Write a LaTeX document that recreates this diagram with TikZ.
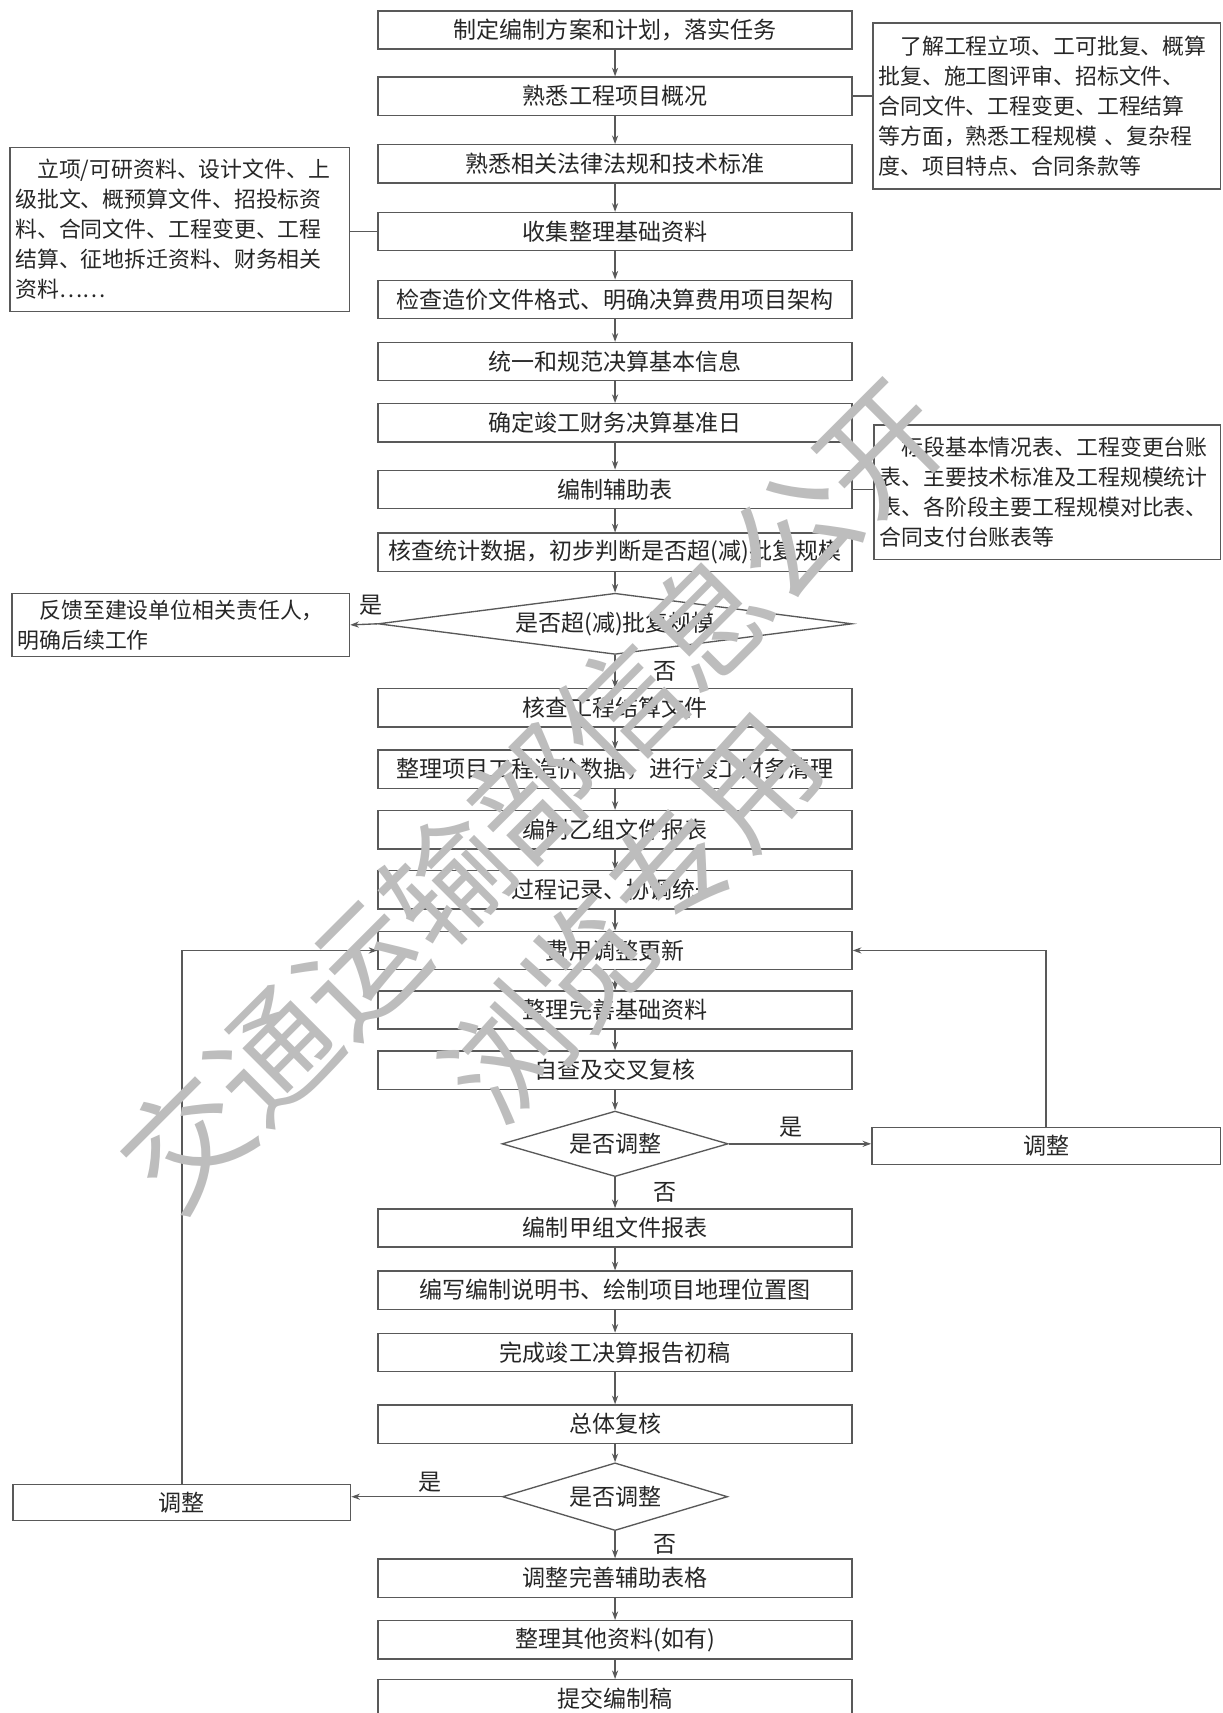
\documentclass[tikz,border=0pt]{standalone}
\usepackage{fontspec}
\usepackage{tikz}
\usetikzlibrary{arrows.meta, shapes.geometric, positioning}
\newfontfamily\cjk{Noto Sans CJK SC}

\begin{document}
\begin{tikzpicture}[x=0.02cm, y=-0.02cm,
    >={Stealth[length=4.5pt,width=3.2pt]},
    line width=0.7pt, draw=black!65,
    every node/.style={font=\cjk\fontsize{12}{14}\selectfont, text=black!85},
    stepbox/.style={draw, minimum width=8.68cm, minimum height=0.7cm, inner sep=0pt},
    notebox/.style={draw, align=left, inner xsep=0.1cm, inner ysep=0pt,
        font=\cjk\fontsize{11.4}{15.6}\selectfont},
    checkbox/.style={draw, diamond, inner sep=0pt},
    yesno/.style={inner sep=0pt},
    watermark/.style={font=\cjk\fontsize{64}{64}\selectfont, text=black!26, inner sep=0pt}]

    \useasboundingbox (0,0) rectangle (1119,1568);

    % main column
    \node[stepbox] (s_1)  at (563,27.5)  {制定编制方案和计划，落实任务};
    \node[stepbox] (s_2)  at (563,88)    {熟悉工程项目概况};
    \node[stepbox] (s_3)  at (563,150)   {熟悉相关法律法规和技术标准};
    \node[stepbox] (s_4)  at (563,212)   {收集整理基础资料};
    \node[stepbox] (s_5)  at (563,274)   {检查造价文件格式、明确决算费用项目架构};
    \node[stepbox] (s_6)  at (563,331)   {统一和规范决算基本信息};
    \node[stepbox] (s_7)  at (563,387)   {确定竣工财务决算基准日};
    \node[stepbox] (s_8)  at (563,448)   {编制辅助表};
    \node[stepbox] (s_9)  at (563,505.5) {核查统计数据，初步判断是否超(减)批复规模};
    \node[checkbox, minimum width=8.68cm, minimum height=1.12cm, shape aspect=7.75]
                   (d_1)  at (563,571)   {是否超(减)批复规模};
    \node[stepbox] (s_10) at (563,648)   {核查工程结算文件};
    \node[stepbox] (s_11) at (563,704)   {整理项目工程造价数据，进行竣工财务清理};
    \node[stepbox] (s_12) at (563,759.5) {编制乙组文件报表};
    \node[stepbox] (s_13) at (563,814.5) {过程记录、协调统一};
    \node[stepbox] (s_14) at (563,870)   {费用调整更新};
    \node[stepbox] (s_15) at (563,924.5) {整理完善基础资料};
    \node[stepbox] (s_16) at (563,979.5) {自查及交叉复核};
    \node[checkbox, minimum width=4.14cm, minimum height=1.2cm, shape aspect=3.45]
                   (d_2)  at (563,1047)  {是否调整};
    \node[stepbox] (s_17) at (563,1124)  {编制甲组文件报表};
    \node[stepbox] (s_18) at (563,1181)  {编写编制说明书、绘制项目地理位置图};
    \node[stepbox] (s_19) at (563,1238)  {完成竣工决算报告初稿};
    \node[stepbox] (s_20) at (563,1303.5) {总体复核};
    \node[checkbox, minimum width=4.12cm, minimum height=1.24cm, shape aspect=3.32]
                   (d_3)  at (563,1370)  {是否调整};
    \node[stepbox] (s_21) at (563,1444.5) {调整完善辅助表格};
    \node[stepbox] (s_22) at (563,1501)  {整理其他资料(如有)};
    \node[stepbox] (s_23) at (563,1555)  {提交编制稿};

    % side notes
    \node[notebox, text width=6.02cm, minimum height=3.0cm] (n_basis) at (164.5,210)
        {\hspace*{1em}立项/可研资料、设计文件、上\\级批文、概预算文件、招投标资\\料、合同文件、工程变更、工程\\结算、征地拆迁资料、财务相关\\资料……};
    \node[notebox, text width=6.16cm, minimum height=3.04cm] (n_scope) at (958,97)
        {\hspace*{1em}了解工程立项、工可批复、概算\\批复、施工图评审、招标文件、\\合同文件、工程变更、工程结算\\等方面，熟悉工程规模 、复杂程\\度、项目特点、合同条款等};
    \node[notebox, text width=6.14cm, minimum height=2.46cm] (n_tables) at (958.5,450.5)
        {\hspace*{1em}标段基本情况表、工程变更台账\\表、主要技术标准及工程规模统计\\表、各阶段主要工程规模对比表、\\合同支付台账表等};
    \node[notebox, text width=5.98cm, minimum height=1.16cm] (n_feed) at (165.5,572)
        {\hspace*{1em}反馈至建设单位相关责任人，\\明确后续工作};
    \node[stepbox, minimum width=6.38cm, minimum height=0.68cm] (a_r) at (957.5,1049) {调整};
    \node[stepbox, minimum width=6.18cm, minimum height=0.66cm] (a_l) at (166.5,1375.5) {调整};

    \path[->]
    (s_1)  edge (s_2)
    (s_2)  edge (s_3)
    (s_3)  edge (s_4)
    (s_4)  edge (s_5)
    (s_5)  edge (s_6)
    (s_6)  edge (s_7)
    (s_7)  edge (s_8)
    (s_8)  edge (s_9)
    (s_9)  edge (d_1)
    (d_1)  edge node [yesno, right=0.7cm] {否} (s_10)
    (d_1.west) edge node [yesno, pos=0.25, above=4pt] {是} (n_feed.east)
    (s_10) edge (s_11)
    (s_11) edge (s_12)
    (s_12) edge (s_13)
    (s_13) edge (s_14)
    (s_14) edge (s_15)
    (s_15) edge (s_16)
    (s_16) edge (d_2)
    (d_2)  edge node [yesno, right=0.7cm] {否} (s_17)
    (d_2.east) edge node [yesno, pos=0.44, above=3pt] {是} (d_2.east -| a_r.west)
    (s_17) edge (s_18)
    (s_18) edge (s_19)
    (s_19) edge (s_20)
    (s_20) edge (d_3)
    (d_3)  edge node [yesno, right=0.7cm] {否} (s_21)
    (d_3.west) edge node [yesno, pos=0.48, above=2pt] {是} (d_3.west -| a_l.east)
    (s_21) edge (s_22)
    (s_22) edge (s_23)
    ;

    % loops back and links to the notes
    \draw[->] (a_r.north) |- (s_14.east);
    \draw[->] (a_l.north) |- (s_14.west);
    \draw (s_2.east) -- (s_2.east -| n_scope.west);
    \draw (s_4.west) -- (s_4.west -| n_basis.east);
    \draw (s_8.east) -- (s_8.east -| n_tables.west);

    % watermark
    \node[watermark, rotate=45] (wm_1) at (488,727) {交通运输部信息公开};
    \node[watermark, rotate=48] (wm_2) at (577,839) {浏览专用};
\end{tikzpicture}
\end{document}
